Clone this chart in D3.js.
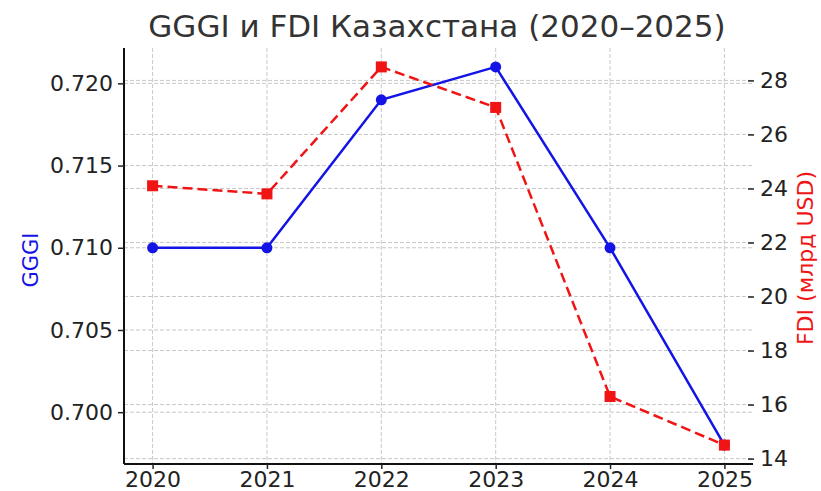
<html>
<head>
    <meta charset="UTF-8">
    <script src="https://cdnjs.cloudflare.com/ajax/libs/d3/7.8.5/d3.min.js"></script>
    <style>
        body { margin: 0; background: #fff; }
        text { font-family: "DejaVu Sans", sans-serif; }
    </style>
</head>
<body>
    <script>
        var years = [2020, 2021, 2022, 2023, 2024, 2025];
        var gggi = [0.710, 0.710, 0.719, 0.721, 0.710, 0.698];
        var fdi = [24.1, 23.8, 28.5, 27.0, 16.3, 14.5];
        var gggiTicks = [0.700, 0.705, 0.710, 0.715, 0.720];
        var fdiTicks = [14, 16, 18, 20, 22, 24, 26, 28];

        var width = 821, height = 491;
        var pLeft = 124, pRight = 753, pTop = 48, pBottom = 464;

        var svg = d3.select("body").append("svg")
                .attr("width", width)
                .attr("height", height);

        var x = d3.scaleLinear().domain([2019.75, 2025.25]).range([pLeft, pRight]);
        var yL = d3.scaleLinear().domain([0.69685, 0.72215]).range([pBottom, pTop]);
        var yR = d3.scaleLinear().domain([13.8, 29.2]).range([pBottom, pTop]);

        // grid
        var grid = svg.append("g")
                .attr("stroke", "#c8c8c8")
                .attr("stroke-width", 1)
                .attr("stroke-dasharray", "4,2");
        grid.selectAll(".gx").data(years).enter().append("line")
                .attr("x1", d => x(d)).attr("x2", d => x(d))
                .attr("y1", pTop).attr("y2", pBottom);
        grid.selectAll(".gl").data(gggiTicks).enter().append("line")
                .attr("x1", pLeft).attr("x2", pRight)
                .attr("y1", d => yL(d)).attr("y2", d => yL(d));
        grid.selectAll(".gr").data(fdiTicks).enter().append("line")
                .attr("x1", pLeft).attr("x2", pRight)
                .attr("y1", d => yR(d)).attr("y2", d => yR(d));

        // axes
        var xAxis = svg.append("g")
                .attr("transform", "translate(0," + pBottom + ")")
                .call(d3.axisBottom(x).tickValues(years).tickFormat(d3.format("d")).tickSize(5).tickPadding(2));
        var lAxis = svg.append("g")
                .attr("transform", "translate(" + pLeft + ",0)")
                .call(d3.axisLeft(yL).tickValues(gggiTicks).tickFormat(d3.format(".3f")).tickSize(6).tickPadding(5));
        var rAxis = svg.append("g")
                .attr("transform", "translate(748,0)")
                .call(d3.axisRight(yR).tickValues(fdiTicks).tickSize(6).tickPadding(6));
        rAxis.select(".domain").remove();

        [xAxis, lAxis, rAxis].forEach(function (a) {
            a.selectAll("text").attr("font-size", 22).attr("fill", "#222")
                .attr("font-family", "DejaVu Sans");
            a.selectAll("line").attr("stroke", "#222").attr("stroke-width", 1.5);
            a.select(".domain").attr("stroke", "#111").attr("stroke-width", 2);
        });
        xAxis.select(".domain").attr("d", "M" + pLeft + ",0H" + pRight);
        lAxis.select(".domain").attr("d", "M0," + pTop + "V" + pBottom);

        // GGGI line
        svg.append("path")
                .datum(years)
                .attr("fill", "none")
                .attr("stroke", "#1414e6")
                .attr("stroke-width", 2.5)
                .attr("d", d3.line().x(d => x(d)).y((d, i) => yL(gggi[i])));
        svg.selectAll(".pt").data(years).enter().append("circle")
                .attr("cx", d => x(d))
                .attr("cy", (d, i) => yL(gggi[i]))
                .attr("r", 5.5)
                .attr("fill", "#1414e6");

        // FDI line
        svg.append("path")
                .datum(years)
                .attr("fill", "none")
                .attr("stroke", "#f01414")
                .attr("stroke-width", 2.5)
                .attr("stroke-dasharray", "10,5")
                .attr("d", d3.line().x(d => x(d)).y((d, i) => yR(fdi[i])));
        svg.selectAll(".sq").data(years).enter().append("rect")
                .attr("x", d => x(d) - 5.5)
                .attr("y", (d, i) => yR(fdi[i]) - 5.5)
                .attr("width", 11).attr("height", 11)
                .attr("fill", "#f01414");

        // title and labels
        svg.append("text")
                .attr("x", 437).attr("y", 37)
                .attr("text-anchor", "middle")
                .attr("font-size", 31)
                .attr("fill", "#333")
                .text("GGGI и FDI Казахстана (2020–2025)");

        svg.append("text")
                .attr("transform", "translate(38,260) rotate(-90)")
                .attr("text-anchor", "middle")
                .attr("font-size", 21)
                .attr("fill", "#1414e6")
                .text("GGGI");

        svg.append("text")
                .attr("transform", "translate(813,258) rotate(-90)")
                .attr("text-anchor", "middle")
                .attr("font-size", 22)
                .attr("fill", "#f01414")
                .text("FDI (млрд USD)");
    </script>
</body>
</html>
